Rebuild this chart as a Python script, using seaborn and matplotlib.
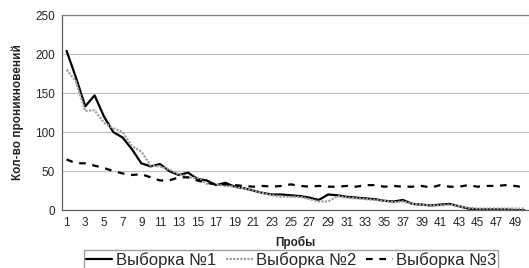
import matplotlib
matplotlib.use('Agg')
import matplotlib.pyplot as plt
import seaborn as sns
import pandas as pd

probes = list(range(1, 51))
sample1 = [204, 170, 133, 147, 120, 100, 93, 78, 60, 56,
           59, 50, 45, 48, 40, 38, 32, 35, 30, 28,
           25, 22, 20, 20, 19, 18, 16, 13, 20, 19,
           17, 16, 15, 14, 12, 11, 13, 8, 7, 6,
           7, 8, 5, 2, 1, 1, 1, 1, 0, 0]
sample2 = [180, 165, 127, 128, 112, 105, 100, 82, 75, 57,
           56, 52, 46, 42, 41, 34, 33, 31, 30, 28,
           25, 22, 19, 17, 17, 17, 14, 11, 11, 18,
           16, 15, 14, 13, 12, 10, 11, 8, 7, 6,
           6, 7, 5, 3, 2, 2, 2, 2, 2, 2]
sample3 = [65, 60, 60, 57, 54, 50, 47, 45, 46, 42,
           38, 38, 42, 42, 38, 35, 33, 33, 32, 31,
           30, 31, 30, 31, 33, 31, 30, 31, 30, 30,
           31, 30, 32, 32, 30, 31, 30, 30, 31, 29,
           32, 30, 30, 32, 30, 31, 31, 32, 31, 29]
names = ['Выборка №1', 'Выборка №2', 'Выборка №3']

df = pd.DataFrame({'probe': probes, names[0]: sample1, names[1]: sample2, names[2]: sample3})
long_df = df.melt(id_vars='probe', var_name='series', value_name='count')

sns.set_style('white')
plt.rcParams['font.family'] = ['Liberation Sans', 'DejaVu Sans']

fig = plt.figure(figsize=(5.29, 2.68), dpi=100)
ax = fig.add_axes([0.117, 0.216, 0.883, 0.728])

styles = {names[0]: dict(color='black', lw=1.6, ls='-'),
          names[1]: dict(color='#a0a0a0', lw=1.6, ls=(0, (1, 0.6))),
          names[2]: dict(color='black', lw=1.6, ls=(0, (3, 3)))}
for name in names:
    sub = long_df[long_df['series'] == name]
    sns.lineplot(data=sub, x='probe', y='count', ax=ax, legend=False, **styles[name])

ax.set_xlim(0.5, 50.5)
ax.set_ylim(0, 250)
ax.set_yticks([0, 50, 100, 150, 200, 250])
ax.set_xticks(probes[::2])
ax.tick_params(axis='both', labelsize=8.5, length=3, color='#404040', pad=2)
ax.yaxis.grid(True, color='#c0c0c0', lw=0.8)
ax.spines['right'].set_visible(False)
ax.spines['top'].set_color('#808080')
ax.spines['top'].set_linewidth(0.9)
for sp in ['left', 'bottom']:
    ax.spines[sp].set_color('#606060')
    ax.spines[sp].set_linewidth(0.9)
ax.set_xlabel('Пробы', fontsize=8.5, fontweight='bold', labelpad=5)
ax.set_ylabel('Кол-во проникновений', fontsize=8.5, fontweight='bold', labelpad=8)

fig.legend(ax.get_lines()[:3], names, loc='upper left',
           bbox_to_anchor=(84 / 529, 1 - 250 / 268), ncol=3, fontsize=12,
           frameon=True, fancybox=False, edgecolor='#a0a0a0', framealpha=1,
           handlelength=1.6, handletextpad=0.2, columnspacing=0.6,
           borderpad=0.1, borderaxespad=0)

fig.savefig('out.png', dpi=100)
